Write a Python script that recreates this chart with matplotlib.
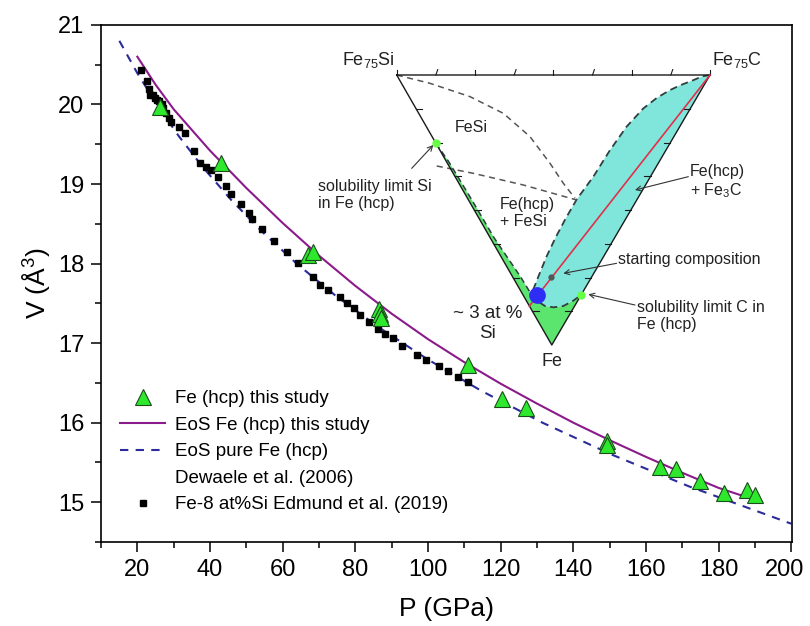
import matplotlib as mpl
mpl.use('Agg')
from matplotlib import pyplot as plt
from matplotlib.lines import Line2D
from matplotlib.ticker import MultipleLocator
import matplotlib.transforms as mtransforms
import numpy as np

plt.rcParams['font.family'] = ['Liberation Sans', 'DejaVu Sans']
plt.rcParams['mathtext.default'] = 'regular'

## ------------------------------------------------------------------
##  Data
## ------------------------------------------------------------------
# Fe (hcp) this study (green triangles)
tri_P = [26.2, 43.1, 66.9, 68.3, 86.6, 86.8, 87.0, 110.9, 120.4, 127.0,
         149.2, 149.4, 164.0, 168.3, 174.8, 181.4, 187.8, 190.1]
tri_V = [19.97, 19.26, 18.11, 18.15, 17.43, 17.36, 17.32, 16.72, 16.30, 16.18,
         15.77, 15.72, 15.44, 15.42, 15.27, 15.11, 15.15, 15.09]

# Fe-8 at%Si, Edmund et al. (2019) (black squares)
sq_P = [20.9, 22.7, 23.3, 23.5, 24.4, 24.8, 25.5, 26.0, 26.7, 27.1, 28.0, 28.8,
        29.4, 31.5, 33.2, 35.5, 37.2, 38.8, 40.4, 42.2, 44.3, 45.9, 48.6, 50.7,
        51.7, 54.4, 57.6, 61.2, 64.2, 68.3, 70.2, 72.6, 75.7, 77.7, 79.6, 81.4,
        83.7, 86.2, 88.1, 90.3, 92.9, 97.0, 99.5, 103.1, 105.4, 108.2, 110.9]
sq_V = [20.43, 20.30, 20.20, 20.12, 20.12, 20.08, 20.06, 20.04, 20.01, 19.95,
        19.89, 19.83, 19.78, 19.72, 19.64, 19.41, 19.26, 19.22, 19.18, 19.09,
        18.97, 18.88, 18.75, 18.63, 18.56, 18.43, 18.28, 18.14, 18.01, 17.83,
        17.73, 17.67, 17.58, 17.50, 17.44, 17.35, 17.26, 17.18, 17.11, 17.06,
        16.97, 16.85, 16.79, 16.71, 16.65, 16.58, 16.51]

# EoS Fe (hcp) this study (purple line)
eos_P = [20, 25, 30, 40, 50, 60, 70, 80, 90, 100, 110, 120, 130, 140, 150,
         160, 170, 180, 190]
eos_V = [20.60, 20.25, 19.94, 19.42, 18.95, 18.51, 18.10, 17.72, 17.37, 17.05,
         16.76, 16.49, 16.24, 16.00, 15.78, 15.57, 15.37, 15.18, 15.03]

# EoS pure Fe (hcp), Dewaele et al. (2006) (dashed line)
dw_P = [15.05, 19.92, 25.36, 31.44, 38.24, 45.84, 54.35, 63.84, 74.47, 86.41,
        99.76, 114.7, 131.5, 150.5, 171.8, 195.8, 200.0]
dw_V = [20.8, 20.4, 20.0, 19.6, 19.2, 18.8, 18.4, 18.0, 17.6, 17.2, 16.8,
        16.4, 16.0, 15.6, 15.2, 14.8, 14.73]

## ------------------------------------------------------------------
##  Ternary sketch (inset), unit coords: Fe75Si=(0,1), Fe75C=(1,1), Fe=(0.495,0)
## ------------------------------------------------------------------
fe_u = 0.495
# dashed boundary of the Fe(hcp)+Fe3C field, from Fe75C down to the blue dot
cyan_top_u = [1.0, 0.975, 0.947, 0.905, 0.872, 0.830, 0.787, 0.734, 0.681,
              0.628, 0.575, 0.540, 0.508, 0.478, 0.452, 0.431]
cyan_top_v = [1.0, 0.995, 0.981, 0.962, 0.944, 0.915, 0.876, 0.809, 0.722,
              0.624, 0.540, 0.470, 0.400, 0.327, 0.253, 0.191]
# dashed bottom curve, from the blue dot to the C solubility limit
bot_u = [0.4309, 0.4521, 0.4734, 0.5000, 0.5319, 0.5638, 0.5885]
bot_v = [0.1852, 0.1605, 0.1444, 0.1395, 0.1444, 0.1642, 0.1852]
# right boundary of the Fe(hcp) strip, Si solubility limit down to blue dot
strip_u = [0.1253, 0.166, 0.240, 0.312, 0.395, 0.4309]
strip_v = [0.7469, 0.679, 0.537, 0.395, 0.2531, 0.1852]
# FeSi field boundary and Fe(hcp)+FeSi boundary
fesi_u = [0.0, 0.1064, 0.234, 0.3404, 0.4255, 0.4894, 0.5319, 0.5691]
fesi_v = [1.0, 0.9691, 0.9198, 0.858, 0.7716, 0.6728, 0.5988, 0.5432]
tie_u = [0.1277, 0.2447, 0.4043, 0.5745]
tie_v = [0.663, 0.6358, 0.5926, 0.537]
# marked points
si_sol = (0.1253, 0.7469)
c_sol = (0.5885, 0.1852)
blue_pt = (0.449, 0.185)
start_pt = (0.4915, 0.2506)
red_start = (0.4234, 0.1444)

## ------------------------------------------------------------------
##  Main plot
## ------------------------------------------------------------------
fig = plt.figure(figsize=(8.1, 6.26), dpi=100)
ax = fig.add_axes([0.1247, 0.1342, 0.8535, 0.826])

l_eos, = ax.plot(eos_P, eos_V, color='#8b1a8b', lw=1.5, zorder=2)
l_dw, = ax.plot(dw_P, dw_V, color='#2b2b9b', lw=1.5, dashes=(4, 3.5), zorder=2)
l_sq, = ax.plot(sq_P, sq_V, 's', color='k', ms=4.5, ls='none', zorder=3)
l_tri, = ax.plot(tri_P, tri_V, '^', mfc='#2ee82e', mec='#1b4d1b', mew=0.8,
                 ms=11, ls='none', zorder=4)

ax.set_xlim(10, 200.3)
ax.set_ylim(14.5, 21)
ax.xaxis.set_major_locator(MultipleLocator(20))
ax.xaxis.set_minor_locator(MultipleLocator(10))
ax.yaxis.set_major_locator(MultipleLocator(1))
ax.yaxis.set_minor_locator(MultipleLocator(0.5))
ax.tick_params(which='major', direction='out', length=7, width=1.1,
               labelsize=17, pad=5)
ax.tick_params(which='minor', direction='out', length=4, width=1.1)
for sp in ax.spines.values():
    sp.set_linewidth(1.2)

ax.set_xlabel('P (GPa)', fontsize=19, labelpad=12)
ax.set_ylabel('V (Å$^3$)', fontsize=19, labelpad=4)

blank = Line2D([], [], ls='none')
ax.legend([l_tri, l_eos, l_dw, blank, l_sq],
          ['Fe (hcp) this study', 'EoS Fe (hcp) this study',
           'EoS pure Fe (hcp)', 'Dewaele et al. (2006)',
           'Fe-8 at%Si Edmund et al. (2019)'],
          loc='upper left', bbox_to_anchor=(0.0275, 0.294), frameon=False,
          fontsize=13.5, handlelength=2.4, handletextpad=0.55,
          labelspacing=0.5, borderpad=0, borderaxespad=0, numpoints=1)

## ------------------------------------------------------------------
##  Ternary inset
## ------------------------------------------------------------------
ins = fig.add_axes([396.7 / 810, 1 - 345 / 626, 313.3 / 810, 270 / 626])
ins.set_xlim(0, 1)
ins.set_ylim(0, 1)
ins.axis('off')
ins.patch.set_alpha(0)

cyan_u = [c_sol[0], 1.0] + cyan_top_u[1:] + bot_u
cyan_v = [c_sol[1], 1.0] + cyan_top_v[1:] + bot_v
ins.fill(cyan_u, cyan_v, color='#80e6dc', lw=0, zorder=1, clip_on=False)

green_u = [si_sol[0], fe_u, c_sol[0]] + bot_u[::-1] + strip_u[::-1]
green_v = [si_sol[1], 0.0, c_sol[1]] + bot_v[::-1] + strip_v[::-1]
ins.fill(green_u, green_v, color='#5be46e', lw=0, zorder=1, clip_on=False)

# triangle outline
ins.plot([0, 1, fe_u, 0], [1, 1, 0, 1], color='#1a1a1a', lw=1.0, zorder=3,
         clip_on=False)
# ternary ticks
for k in range(9):
    u = k / 8
    ins.plot([u, u + (0.006 if k % 2 else 0)], [1, 1.02], color='#1a1a1a',
             lw=0.8, clip_on=False, zorder=3)
for k in range(1, 8):
    v = k / 8
    ul = fe_u * (1 - v)
    ur = fe_u + (1 - fe_u) * v
    ins.plot([ul, ul + 0.02], [v, v], color='#1a1a1a', lw=0.8,
             clip_on=False, zorder=3)
    ins.plot([ur, ur - 0.02], [v, v], color='#1a1a1a', lw=0.8,
             clip_on=False, zorder=3)

# dashed phase boundaries
ins.plot(cyan_top_u + bot_u, cyan_top_v + bot_v, color='#2f3f3f', lw=1.3,
         dashes=(4, 2.5), zorder=2, clip_on=False)
ins.plot(strip_u, strip_v, color='#2f3f3f', lw=1.1, dashes=(4, 2.5),
         zorder=2, clip_on=False)
ins.plot(fesi_u, fesi_v, color='#555555', lw=1.1, dashes=(4, 3),
         zorder=2, clip_on=False)
ins.plot(tie_u, tie_v, color='#555555', lw=1.1, dashes=(4, 3),
         zorder=2, clip_on=False)

# red line to Fe75C and points
ins.plot([red_start[0], 1], [red_start[1], 1], color='#e0304a', lw=1.2,
         zorder=3, clip_on=False)
ins.plot(*blue_pt, 'o', color='#2d2df5', ms=11, zorder=4, clip_on=False)
ins.plot(*start_pt, 'o', color='#555555', ms=3.5, zorder=4, clip_on=False)
ins.plot(*si_sol, 'o', color='#66ff44', ms=5, zorder=4, clip_on=False)
ins.plot(*c_sol, 'o', color='#66ff44', ms=5, zorder=4, clip_on=False)

tc = '#222222'
ins.text(-0.090, 1.056, 'Fe$_{75}$Si', fontsize=13, ha='center', va='center', color=tc)
ins.text(1.085, 1.056, 'Fe$_{75}$C', fontsize=13, ha='center', va='center', color=tc)
ins.text(0.239, 0.806, 'FeSi', fontsize=11.5, ha='center', va='center', color=tc)
ins.text(0.33, 0.489, 'Fe(hcp)\n+ FeSi', fontsize=11.5, ha='left', va='center', color=tc)
ins.text(0.936, 0.604, 'Fe(hcp)\n+ Fe$_3$C', fontsize=11.5, ha='left', va='center', color=tc)
ins.text(0.707, 0.317, 'starting composition', fontsize=11.5, ha='left',
         va='center', color=tc)
ins.text(0.768, 0.107, 'solubility limit C in\nFe (hcp)', fontsize=11.5,
         ha='left', va='center', color=tc)
ins.text(-0.251, 0.556, 'solubility limit Si\nin Fe (hcp)', fontsize=11.5,
         ha='left', va='center', color=tc)
ins.text(0.289, 0.079, '~ 3 at %\nSi', fontsize=13.5, ha='center',
         va='center', color=tc)
ins.text(fe_u, -0.062, 'Fe', fontsize=13, ha='center', va='center', color=tc)

arrow = dict(arrowstyle='->', color='#333333', lw=0.8,
             shrinkA=0, shrinkB=0, mutation_scale=9)
ins.annotate('', xy=(0.117, 0.7407), xytext=(0.0479, 0.6543),
             arrowprops=arrow, annotation_clip=False)
ins.annotate('', xy=(0.532, 0.2654), xytext=(0.702, 0.3025),
             arrowprops=arrow, annotation_clip=False)
ins.annotate('', xy=(0.6117, 0.1877), xytext=(0.7606, 0.1481),
             arrowprops=arrow, annotation_clip=False)
ins.annotate('', xy=(0.7606, 0.574), xytext=(0.9309, 0.6235),
             arrowprops=arrow, annotation_clip=False)

# keep the last x tick label inside the canvas
fig.canvas.draw()
for lbl in ax.get_xticklabels():
    if lbl.get_text() == '200':
        lbl.set_transform(lbl.get_transform() +
                          mtransforms.ScaledTranslation(-5 / 72, 0, fig.dpi_scale_trans))

fig.savefig('out.png', dpi=100)
